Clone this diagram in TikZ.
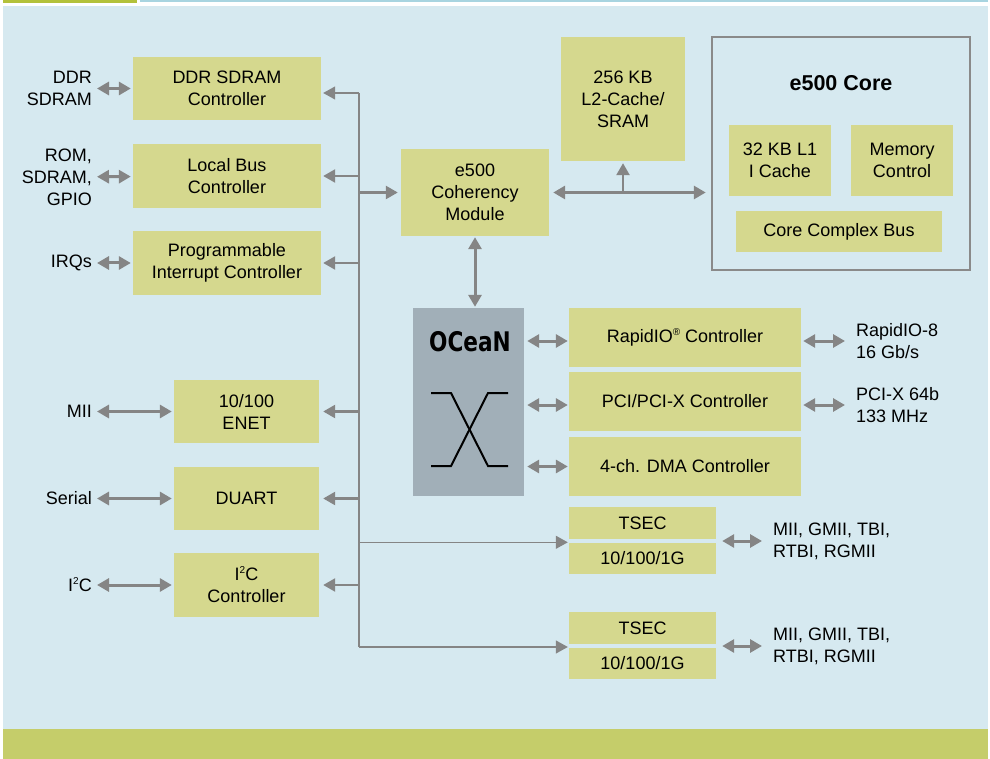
\documentclass[tikz,border=0pt]{standalone}
\usepackage{fontspec}
\setmainfont{Liberation Sans}
\newfontfamily\oceanfont{DejaVu Sans Condensed}
\usetikzlibrary{arrows.meta}

\definecolor{bgc}{HTML}{D6E9F0}
\definecolor{boxc}{HTML}{D5D88E}
\definecolor{barc}{HTML}{C5CD6A}
\definecolor{topg}{HTML}{B3C13A}
\definecolor{topb}{HTML}{A8D4E0}
\definecolor{arrc}{HTML}{858585}
\definecolor{corec}{HTML}{8A8A8A}
\definecolor{oceanc}{HTML}{A1AFB8}
\newcommand{\fs}{\fontsize{18}{22}\selectfont}
\newcommand{\supr}[1]{\smash{\raisebox{0.75ex}{\fontsize{10}{10}\selectfont #1}}}

\begin{document}
\begin{tikzpicture}[x=1pt,y=-1pt,
    blk/.style={fill=boxc,inner sep=0pt,align=center,font=\fs},
    lbl/.style={inner sep=0pt,font=\fs},
    dbl/.style={draw=arrc,line width=3pt,{Triangle[length=12pt,width=13pt]}-{Triangle[length=12pt,width=13pt]}},
    stub/.style={draw=arrc,line width=2.5pt,-{Triangle[length=12pt,width=13pt]}},
    busarr/.style={draw=arrc,line width=1.2pt,-{Triangle[length=12pt,width=13pt]}}]
        \useasboundingbox (0,0) rectangle (990,759);
        % frame
        \fill[topg] (3,0) rectangle (137,3);
        \fill[topb] (140,0) rectangle (988,2);
        \fill[bgc] (3,6) rectangle (988,729);
        \fill[barc] (3,729) rectangle (988,759);
        % e500 core
        \node[draw=corec,line width=2.5pt,fill=bgc,minimum width=258pt,minimum height=233pt,inner sep=0pt] (core) at (841,153.5) {};
        \node[font=\fontsize{21.5}{24}\selectfont\bfseries] (coret) at (841,83) {e500 Core};
        \begin{scope}[every node/.style={blk}]
          \node[minimum width=188pt,minimum height=63pt] (ddr) at (227,88.5) {DDR SDRAM\\Controller};
          \node[minimum width=188pt,minimum height=64pt] (lbc) at (227,176) {Local Bus\\Controller};
          \node[minimum width=188pt,minimum height=64pt] (pic) at (227,263) {Programmable\\Interrupt Controller};
          \node[minimum width=145pt,minimum height=63pt] (enet) at (246.5,411.5) {10/100\\ENET};
          \node[minimum width=145pt,minimum height=63pt] (duart) at (246.5,498.5) {DUART};
          \node[minimum width=145pt,minimum height=64pt] (iic) at (246.5,585) {I\supr{2}C\\Controller};
          \node[minimum width=148pt,minimum height=87pt] (ecm) at (475,192.5) {e500\\Coherency\\Module};
          \node[minimum width=124pt,minimum height=124pt] (l2) at (623,99) {256 KB\\L2-Cache/\\SRAM};
          \node[minimum width=102pt,minimum height=71pt] (l1) at (780,160.5) {32 KB L1\\I Cache};
          \node[minimum width=102pt,minimum height=71pt] (mem) at (902,160.5) {Memory\\Control};
          \node[minimum width=206pt,minimum height=41pt] (ccb) at (839,231.5) {Core Complex Bus};
          \node[minimum width=232pt,minimum height=59pt] (rio) at (685,337.5) {RapidIO\supr{®} Controller};
          \node[minimum width=232pt,minimum height=59pt] (pci) at (685,401.5) {PCI/PCI-X Controller};
          \node[minimum width=232pt,minimum height=59pt] (dma) at (685,466.5) {4-ch. DMA Controller};
          \node[minimum width=147pt,minimum height=32pt] (tsec1a) at (642.5,523) {TSEC};
          \node[minimum width=147pt,minimum height=31pt] (tsec1b) at (642.5,558) {10/100/1G};
          \node[minimum width=147pt,minimum height=32pt] (tsec2a) at (642.5,628) {TSEC};
          \node[minimum width=147pt,minimum height=31pt] (tsec2b) at (642.5,663) {10/100/1G};
        \end{scope}
        % OCeaN switch
        \node[fill=oceanc,minimum width=111pt,minimum height=188pt,inner sep=0pt] (ocean) at (468.5,402) {};
        \node[font=\oceanfont\fontsize{27}{30}\selectfont\bfseries] (oct) at (470,342) {\scalebox{0.89}[1]{OCeaN}};
        \draw[line width=2pt] (431,393) -- (451,393) -- (488,466) -- (508,466);
        \draw[line width=2pt] (431,466) -- (451,466) -- (488,393) -- (508,393);
        % outside labels
        \begin{scope}[every node/.style={lbl}]
          \node[anchor=east,align=right] (ddrl) at (92,88.5) {DDR\\SDRAM};
          \node[anchor=east,align=right] (lbcl) at (92,177) {ROM,\\SDRAM,\\GPIO};
          \node[anchor=east,align=right] (picl) at (92,263) {IRQs};
          \node[anchor=east,align=right] (enetl) at (92,411.5) {MII};
          \node[anchor=east,align=right] (duartl) at (92,498.5) {Serial};
          \node[anchor=east,align=right] (iicl) at (92,585) {I\supr{2}C};
          \node[anchor=west,align=left] (riol) at (856,341) {RapidIO-8\\16 Gb/s};
          \node[anchor=west,align=left] (pcil) at (856,405) {PCI-X 64b\\133 MHz};
          \node[anchor=west,align=left] (t1l) at (773,541) {MII, GMII, TBI,\\RTBI, RGMII};
          \node[anchor=west,align=left] (t2l) at (773,646) {MII, GMII, TBI,\\RTBI, RGMII};
        \end{scope}
        \begin{scope}[every edge/.style={dbl,shorten <=5pt,shorten >=2pt}]
          \path (ddrl) edge (ddr);
          \path (lbcl) edge (lbc);
          \path (picl) edge (pic);
          \path (enetl) edge (enet);
          \path (duartl) edge (duart);
          \path (iicl) edge (iic);
        \end{scope}
        % OCeaN links
        \draw[dbl,shorten <=3pt,shorten >=1pt] (ocean.east |- riol) -- (riol -| rio.west);
        \draw[dbl,shorten <=3pt,shorten >=1pt] (ocean.east |- pcil) -- (pcil -| pci.west);
        \draw[dbl,shorten <=3pt,shorten >=1pt] (ocean.east |- dma) -- (dma.west);
        \draw[dbl,shorten <=2pt,shorten >=11pt] (riol -| rio.east) -- (riol.west);
        \draw[dbl,shorten <=2pt,shorten >=11pt] (pcil -| pci.east) -- (pcil.west);
        \draw[dbl,shorten <=6pt,shorten >=11pt] (t1l -| tsec1a.east) -- (t1l.west);
        \draw[dbl,shorten <=6pt,shorten >=11pt] (t2l -| tsec2a.east) -- (t2l.west);
        \draw[dbl,shorten <=1pt,shorten >=1pt] (ecm.south) -- (ecm.south |- ocean.north);
        \draw[dbl,shorten <=4pt,shorten >=5pt] (ecm.east) -- (ecm.east -| core.west);
        \coordinate (l2j) at (l2.south |- ecm.east);
        \draw[stub,shorten >=2pt] (l2j) -- (l2.south);
        % bus
        \coordinate (bt) at (359,93);
        \coordinate (bb) at (359,647);
        \draw[arrc,line width=1.2pt] (bt) -- (bb);
        \draw[busarr,shorten >=2pt] (bt) -- (bt -| ddr.east);
        \draw[stub,shorten >=2pt] (bt |- lbc) -- (lbc.east);
        \draw[stub,shorten >=2pt] (bt |- pic) -- (pic.east);
        \draw[stub,shorten >=3pt] (bt |- ecm) -- (ecm.west);
        \draw[stub,shorten >=4pt] (bt |- enet) -- (enet.east);
        \draw[stub,shorten >=4pt] (bt |- duart) -- (duart.east);
        \draw[stub,shorten >=4pt] (bt |- iic) -- (iic.east);
        \draw[busarr,shorten >=1pt] (bt |- tsec1b.north) -- (tsec1b.north west);
        \draw[busarr,shorten >=1pt] (bb) -- (bb -| tsec2a.west);
      \end{tikzpicture}
\end{document}
